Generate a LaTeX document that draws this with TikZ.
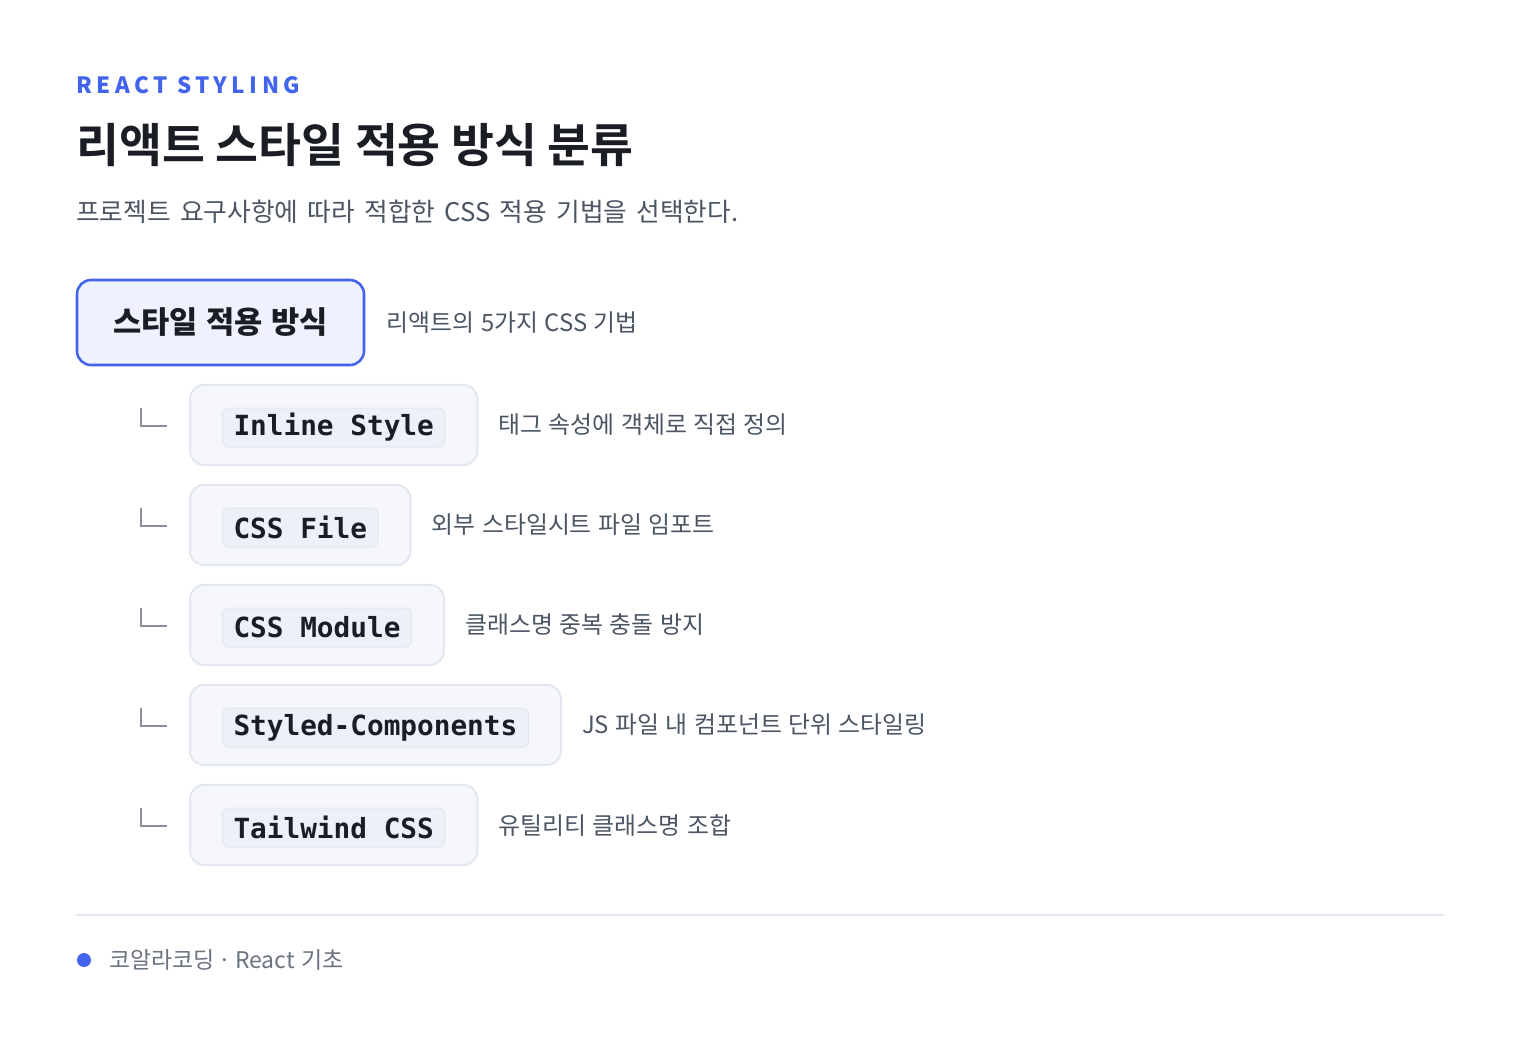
\documentclass[tikz,border=0pt]{standalone}
\usepackage{fontspec}
\setmainfont{Noto Sans CJK KR}[WordSpace=1.2]
\newfontfamily\titlefont{Noto Sans CJK KR Bold}[WordSpace=1.0]
\newfontfamily\subfont{Noto Sans CJK KR}[WordSpace=1.6]
\newfontfamily\spacedfont{Noto Sans CJK KR}[LetterSpace=20]
\newfontfamily\monofont{DejaVu Sans Mono}
\usetikzlibrary{fit,backgrounds,positioning}
\pgfdeclarelayer{boxes}
\pgfsetlayers{background,boxes,main}
\definecolor{accent}{HTML}{4263EB}
\definecolor{rootfill}{HTML}{EFF2FE}
\definecolor{titlecol}{HTML}{1A1D23}
\definecolor{subcol}{HTML}{4B5563}
\definecolor{footcol}{HTML}{6B7280}
\definecolor{childfill}{HTML}{F5F7FB}
\definecolor{childline}{HTML}{E2E7F0}
\definecolor{chipfill}{HTML}{EDF0F6}
\definecolor{chipline}{HTML}{E3E7EF}
\definecolor{lmarkcol}{HTML}{8A909C}
\definecolor{rulecol}{HTML}{E2E8F0}
\tikzset{
  plaintext/.style={inner sep=0pt, anchor=west},
  rootbox/.style={draw=accent, fill=rootfill, line width=1.9pt, rounded corners=10.5pt,
    minimum width=215.25pt, minimum height=63.75pt, inner sep=0pt,
    font=\fontsize{23}{27}\selectfont\bfseries, text=titlecol},
  chip/.style={draw=chipline, fill=chipfill, line width=0.75pt, rounded corners=4.5pt,
    inner xsep=8.25pt, inner ysep=0pt, minimum height=29.25pt, anchor=west,
    font=\monofont\bfseries\fontsize{20.8}{24}\selectfont, text=titlecol},
  childbox/.style={draw=childline, fill=childfill, line width=1.5pt, rounded corners=10.5pt,
    inner xsep=24pt, inner ysep=0pt, minimum height=60pt},
  desc/.style={plaintext, font=\fontsize{17.9}{22}\selectfont, text=subcol},
  lmark/.style={draw=lmarkcol, line width=1.5pt},
}
\begin{document}
\begin{tikzpicture}[x=0.75pt, y=-0.75pt]
\begin{pgfonlayer}{background}
\fill[white] (0,0) rectangle (1520,1051);
\end{pgfonlayer}
\useasboundingbox (0,0) rectangle (1520,1051);
% header
\node[plaintext, font=\spacedfont\bfseries\fontsize{16.8}{20}\selectfont, text=accent] (kicker) at (76,85) {REACT STYLING};
\node[plaintext, font=\titlefont\fontsize{35}{40}\selectfont, text=titlecol] (title) at (76,145) {리액트 스타일 적용 방식 분류};
\node[plaintext, font=\subfont\fontsize{19.3}{23}\selectfont, text=subcol] (subtitle) at (76,212) {프로젝트 요구사항에 따라 적합한 CSS 적용 기법을 선택한다.};
% root
\node[rootbox] (root) at (220.5,322.5) {스타일 적용 방식};
\node[desc, right=16pt of root.east, anchor=west] (rootdesc) {리액트의 5가지 CSS 기법};
% children
\foreach \i/\y/\lab/\txt in {
  1/425/{Inline Style}/{태그 속성에 객체로 직접 정의},
  2/525/{CSS File}/{외부 스타일시트 파일 임포트},
  3/625/{CSS Module}/{클래스명 중복 충돌 방지},
  4/725/{Styled-Components}/{JS 파일 내 컴포넌트 단위 스타일링},
  5/825/{Tailwind CSS}/{유틸리티 클래스명 조합}} {
  \node[chip] (chip\i) at (222,\y+2.5) {\lab};
  \begin{pgfonlayer}{boxes}
    \node[childbox, fit=(chip\i), yshift=1.9pt] (box\i) {};
  \end{pgfonlayer}
  \node[desc, anchor=west] (desc\i) at ([xshift=15pt]box\i.east) {\txt};
  \draw[lmark] ([xshift=-36pt,yshift=12.75pt]box\i.west) |- ([xshift=-16.5pt,yshift=-0.75pt]box\i.west);
}
% footer
\coordinate (ruleL) at (76,915);
\coordinate (ruleR) at (1444,915);
\draw[rulecol, line width=1.5pt] (ruleL) -- (ruleR);
\node[circle, fill=accent, inner sep=0pt, minimum size=10.5pt] (dot) at (84,960) {};
\node[plaintext, font=\fontsize{17.2}{20}\selectfont, text=footcol] (foot) at (109,960) {코알라코딩\,·\,React 기초};
\end{tikzpicture}
\end{document}
